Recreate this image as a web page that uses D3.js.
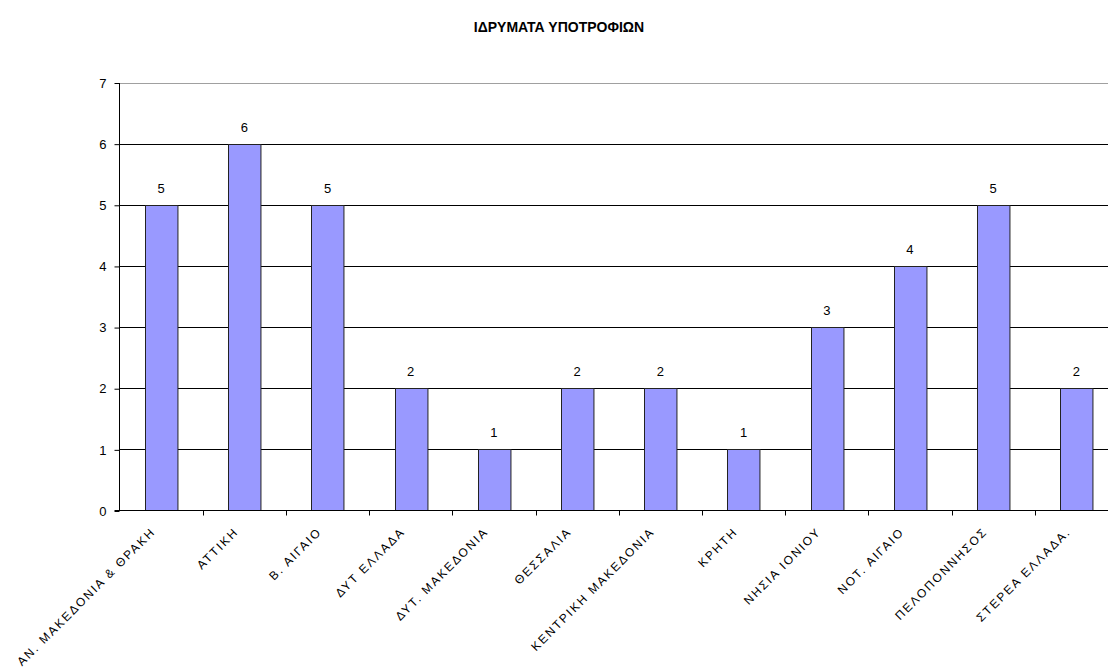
<!DOCTYPE html>
<html>
<head>
<meta charset="utf-8">
<script src="https://cdn.jsdelivr.net/npm/d3@7"></script>
<style>
  body { margin: 0; background: #fff; }
  svg { display: block; font-family: "Liberation Sans", Arial, sans-serif; }
</style>
</head>
<body>
<svg width="1108" height="670"></svg>
<script>
// Data
var categories = ["ΑΝ. ΜΑΚΕΔΟΝΙΑ & ΘΡΑΚΗ", "ΑΤΤΙΚΗ", "Β. ΑΙΓΑΙΟ", "ΔΥΤ ΕΛΛΑΔΑ", "ΔΥΤ. ΜΑΚΕΔΟΝΙΑ",
  "ΘΕΣΣΑΛΙΑ", "ΚΕΝΤΡΙΚΗ ΜΑΚΕΔΟΝΙΑ", "ΚΡΗΤΗ", "ΝΗΣΙΑ ΙΟΝΙΟΥ", "ΝΟΤ. ΑΙΓΑΙΟ", "ΠΕΛΟΠΟΝΝΗΣΟΣ", "ΣΤΕΡΕΑ ΕΛΛΑΔΑ."];
var values = [5, 6, 5, 2, 1, 2, 2, 1, 3, 4, 5, 2];
var yTicks = [0, 1, 2, 3, 4, 5, 6, 7];
var title = "ΙΔΡΥΜΑΤΑ ΥΠΟΤΡΟΦΙΩΝ";

// Layout
var PLOT_LEFT = 119.5;
var PLOT_RIGHT = 1118;
var PLOT_TOP = 82.5;
var PLOT_BOTTOM = 510.5;

var svg = d3.select("svg");

var x = d3.scaleBand()
  .domain(categories)
  .range([PLOT_LEFT, PLOT_RIGHT])
  .paddingInner(0.61)
  .paddingOuter(0.305);

var xBand = d3.scaleBand()
  .domain(categories)
  .range([PLOT_LEFT, PLOT_RIGHT]);

var y = d3.scaleLinear()
  .domain([0, 7])
  .range([PLOT_BOTTOM, PLOT_TOP]);

// title
svg.append("text")
  .attr("x", 559)
  .attr("y", 32)
  .attr("text-anchor", "middle")
  .style("font-size", "14px")
  .style("font-weight", "bold")
  .text(title);

// gridlines
svg.append("g")
  .selectAll("line")
  .data(yTicks.filter(d => d > 0))
  .enter().append("line")
  .attr("x1", PLOT_LEFT)
  .attr("x2", PLOT_RIGHT)
  .attr("y1", d => Math.round(y(d)) + 0.5)
  .attr("y2", d => Math.round(y(d)) + 0.5)
  .attr("stroke", d => d === 7 ? "#a0a0a0" : "#000")
  .attr("stroke-width", 1);

// bars
svg.append("g")
  .selectAll("rect")
  .data(values)
  .enter().append("rect")
  .attr("x", (d, i) => Math.round(x(categories[i])) + 0.5)
  .attr("y", d => Math.round(y(d)) + 0.5)
  .attr("width", x.bandwidth())
  .attr("height", d => PLOT_BOTTOM - Math.round(y(d)) - 0.5)
  .attr("fill", "#9999ff")
  .attr("stroke", "#222")
  .attr("stroke-width", 1);

// value labels
svg.append("g")
  .selectAll("text")
  .data(values)
  .enter().append("text")
  .attr("x", (d, i) => x(categories[i]) + x.bandwidth() / 2)
  .attr("y", d => y(d) - 12)
  .attr("text-anchor", "middle")
  .style("font-size", "13px")
  .text(d => d);

// y axis
var yAxis = d3.axisLeft(y)
  .tickValues(yTicks)
  .tickSize(5)
  .tickFormat(d3.format("d"));

var gy = svg.append("g")
  .attr("transform", "translate(" + PLOT_LEFT + ",0.5)")
  .call(yAxis);
gy.select(".domain").attr("stroke", "#000").attr("d", "M0," + PLOT_TOP + "V" + PLOT_BOTTOM);
gy.selectAll(".tick text")
  .attr("x", -13)
  .style("font-size", "13px")
  .style("font-family", "Liberation Sans, Arial, sans-serif")
  .attr("fill", "#000");
gy.selectAll(".tick line").attr("stroke", "#000");

// x axis baseline + ticks between categories
svg.append("line")
  .attr("x1", PLOT_LEFT - 5)
  .attr("x2", PLOT_RIGHT)
  .attr("y1", PLOT_BOTTOM)
  .attr("y2", PLOT_BOTTOM)
  .attr("stroke", "#000");

svg.append("g")
  .selectAll("line")
  .data(categories)
  .enter().append("line")
  .attr("x1", d => Math.round(xBand(d) + xBand.bandwidth()) + 0.5)
  .attr("x2", d => Math.round(xBand(d) + xBand.bandwidth()) + 0.5)
  .attr("y1", PLOT_BOTTOM)
  .attr("y2", PLOT_BOTTOM + 5)
  .attr("stroke", "#000");

// x labels, rotated
svg.append("g")
  .selectAll("text")
  .data(categories)
  .enter().append("text")
  .attr("transform", d => {
    var cx = xBand(d) + xBand.bandwidth() / 2 - 5;
    return "translate(" + cx + "," + (PLOT_BOTTOM + 22) + ") rotate(-45)";
  })
  .attr("text-anchor", "end")
  .style("font-size", "12px")
  .style("letter-spacing", "1.9px")
  .text(d => d);
</script>
</body>
</html>
